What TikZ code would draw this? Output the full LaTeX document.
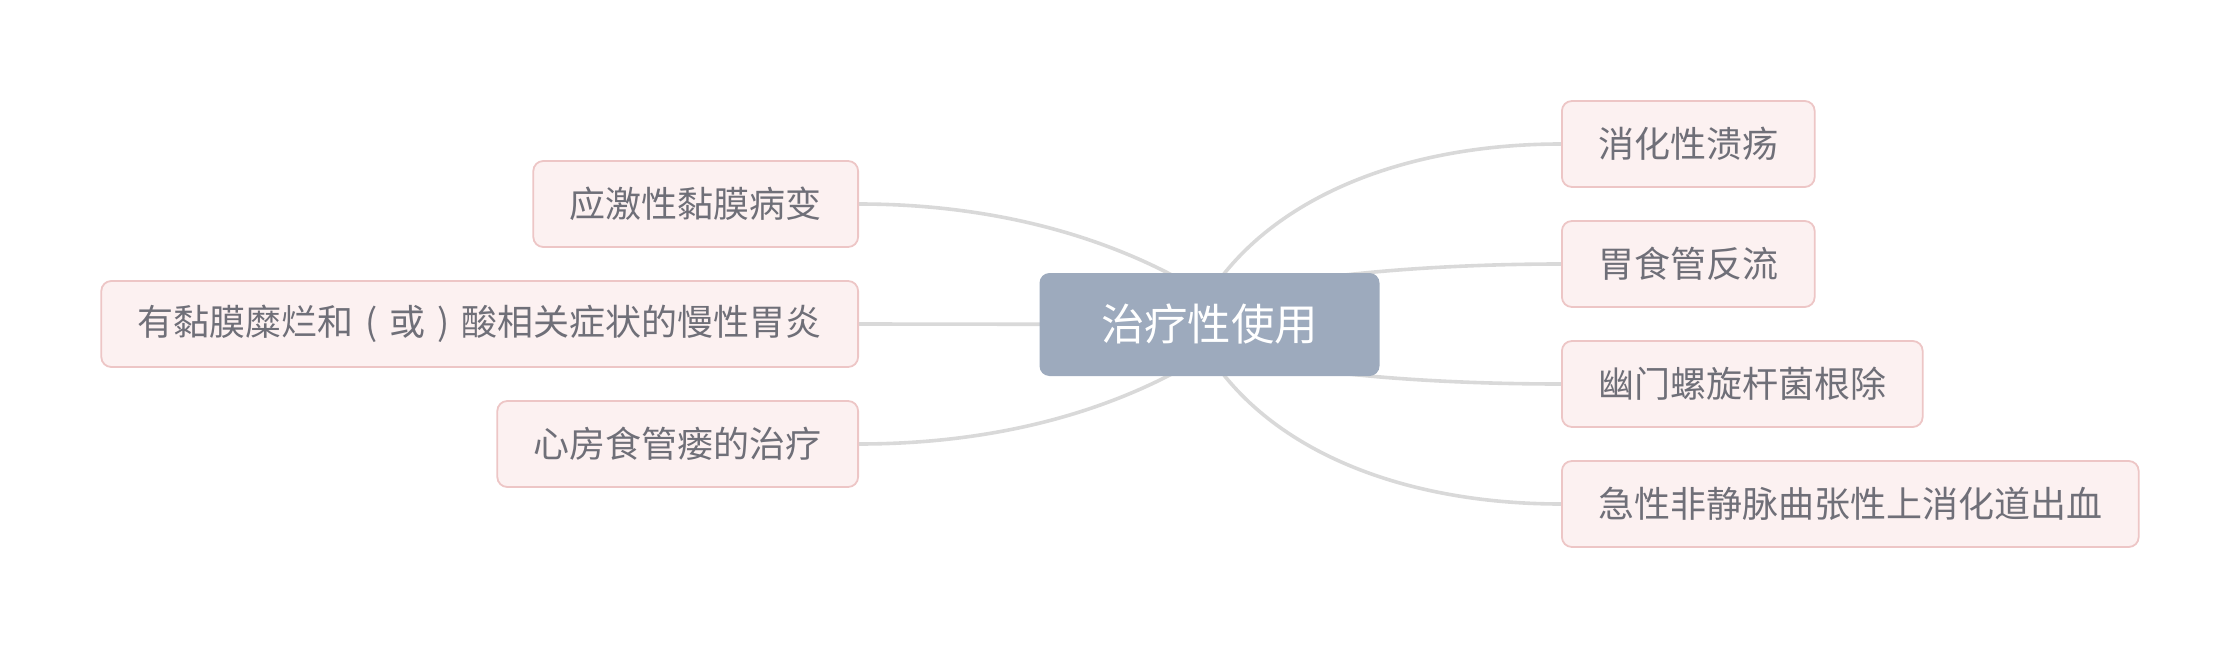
\documentclass[tikz,border=0pt]{standalone}
\usepackage{fontspec}
\setmainfont{Noto Sans CJK SC}
\usetikzlibrary{calc,backgrounds}
\definecolor{leaffill}{HTML}{FCF1F1}
\definecolor{leafdraw}{HTML}{EDC6C6}
\definecolor{leaftext}{HTML}{6F6F78}
\definecolor{rootfill}{HTML}{9DAABD}
\definecolor{edgecol}{HTML}{D9D9D9}
\tikzset{
  leaf/.style={draw=leafdraw, fill=leaffill, line width=0.9pt, rounded corners=5pt,
    text=leaftext, font=\fontsize{18}{22}\selectfont, minimum height=43pt,
    inner xsep=18.2pt, inner ysep=0pt},
  rootbox/.style={fill=rootfill, rounded corners=5pt, text=white,
    font=\fontsize{21.7}{26}\selectfont, minimum width=170pt, minimum height=51.5pt,
    inner sep=0pt},
  edge/.style={draw=edgecol, line width=1.8pt}
}
\newcommand{\cpar}[1]{\makebox[1em][c]{#1}}
\begin{document}
\begin{tikzpicture}[x=0.5pt,y=-0.5pt]
\useasboundingbox (0,0) rectangle (2240,648);
\node[rootbox] (root) at (1209.5,324.5) {治疗性使用};
\node[leaf, anchor=east] (l1) at (859,204) {应激性黏膜病变};
\node[leaf, anchor=east] (l2) at (859,324) {有黏膜糜烂和\cpar{(}或\cpar{)}酸相关症状的慢性胃炎};
\node[leaf, anchor=east] (l3) at (859,444) {心房食管瘘的治疗};
\node[leaf, anchor=west] (r1) at (1561,144) {消化性溃疡};
\node[leaf, anchor=west] (r2) at (1561,264) {胃食管反流};
\node[leaf, anchor=west] (r3) at (1561,384) {幽门螺旋杆菌根除};
\node[leaf, anchor=west] (r4) at (1561,504) {急性非静脉曲张性上消化道出血};
\begin{scope}[on background layer]
\draw[edge] ($(root.center)+(-10,-34)$) .. controls ($(root.center)+(-110,-94)$) and ($(l1.east)+(121,0)$) .. (l1.east);
\draw[edge] (root.center) -- (l2.east);
\draw[edge] ($(root.center)+(-10,34)$) .. controls ($(root.center)+(-110,94)$) and ($(l3.east)+(121,0)$) .. (l3.east);
\draw[edge] ($(root.center)+(-10,-14)$) .. controls ($(root.center)+(50,-124)$) and ($(r1.west)+(-161,0)$) .. (r1.west);
\draw[edge] ($(root.center)+(0,-24)$) .. controls ($(root.center)+(90,-52)$) and ($(r2.west)+(-111,0)$) .. (r2.west);
\draw[edge] ($(root.center)+(0,24)$) .. controls ($(root.center)+(90,52)$) and ($(r3.west)+(-111,0)$) .. (r3.west);
\draw[edge] ($(root.center)+(-10,14)$) .. controls ($(root.center)+(50,124)$) and ($(r4.west)+(-161,0)$) .. (r4.west);
\end{scope}
\end{tikzpicture}
\end{document}
